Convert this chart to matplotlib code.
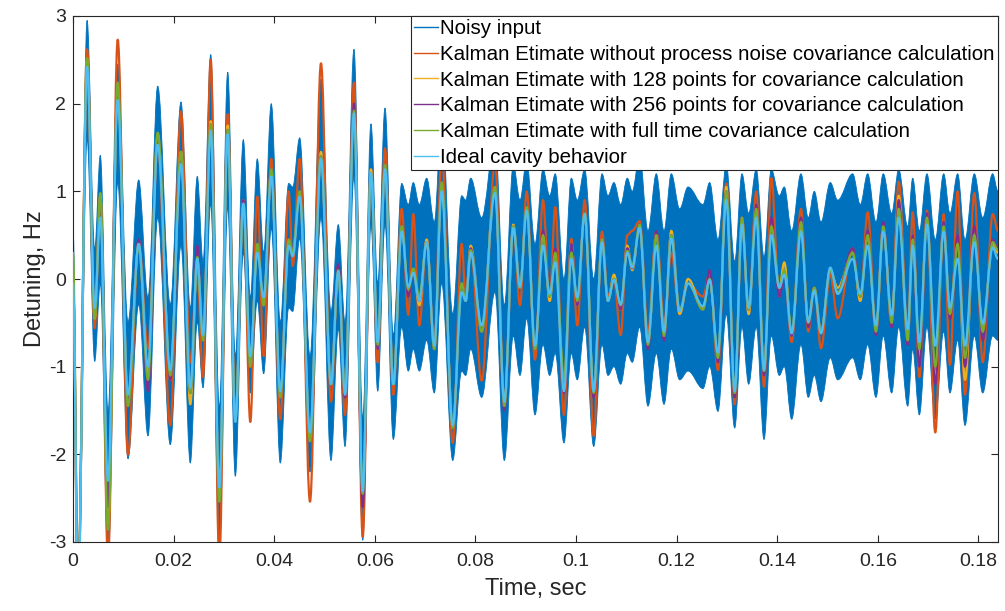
import matplotlib
matplotlib.use("Agg")
import matplotlib.pyplot as plt
from matplotlib.path import Path
from matplotlib.patches import PathPatch
from matplotlib.lines import Line2D

plt.rcParams['font.family'] = ['Liberation Sans', 'DejaVu Sans']
plt.rcParams['axes.unicode_minus'] = False

# ---- data (times of local extrema, s) ----
t = [0.0, 0.0010, 0.0028, 0.00431, 0.00543, 0.00696, 0.00889, 0.01093, 0.01306, 0.01491,
     0.01684, 0.01934, 0.02147, 0.02332, 0.02471, 0.02585, 0.02738, 0.02909, 0.03076, 0.03227,
     0.03386, 0.03525, 0.03664, 0.03791, 0.03942, 0.04121, 0.04288, 0.04368, 0.04507, 0.04712,
     0.04930, 0.05129, 0.05274, 0.05408, 0.05586, 0.05760, 0.05924, 0.06058, 0.06203, 0.06368,
     0.06535, 0.06666, 0.06765, 0.06885, 0.07032, 0.07183, 0.07330, 0.07549, 0.07728, 0.07807,
     0.07907, 0.08125, 0.08390, 0.08575, 0.08754, 0.08887, 0.09020, 0.09185, 0.09344, 0.09477,
     0.09588, 0.09761, 0.09907, 0.10026, 0.10173, 0.10352, 0.10517, 0.10636, 0.10755, 0.10889,
     0.11020, 0.11119, 0.11266, 0.11431, 0.11597, 0.11750, 0.11895, 0.12062, 0.12227, 0.12525,
     0.12658, 0.12823, 0.12988, 0.13155, 0.13300, 0.13433, 0.13584, 0.13738, 0.13883, 0.14042,
     0.14141, 0.14288, 0.14473, 0.14618, 0.14738, 0.14871, 0.15056, 0.15203, 0.15501, 0.15652,
     0.15799, 0.15964, 0.16109, 0.16276, 0.16416, 0.16595, 0.16694, 0.16826, 0.16978, 0.17143,
     0.17310, 0.17435, 0.17588, 0.17734, 0.17919, 0.18086, 0.18284, 0.18390]

ideal = [-0.05, -3.6, 2.42, -0.33, 0.70, -2.30, 2.04, -1.32, 0.40, -1.00,
         1.53, -1.04, 1.31, -1.24, 0.23, -0.64, 1.69, -2.38, 1.65, -1.63,
         0.86, -0.88, 0.30, -0.21, 1.17, -1.28, 0.38, 0.26, 0.94, -1.75,
         1.37, -1.20, 0.09, -1.32, 1.89, -2.42, 1.21, -0.72, 1.25, -1.20,
         0.54, -0.09, 0.07, -0.25, 0.42, -0.76, 1.00, -1.67, -0.15, -0.25,
         0.30, -0.53, 0.98, -1.40, 0.58, -0.09, 0.78, -0.76, 0.38, -0.17,
         0.19, -1.28, 0.23, -0.21, 0.74, -1.28, 0.42, -0.25, -0.01, -0.29,
         0.30, 0.13, 0.58, -0.72, 0.38, -0.60, 0.46, -0.37, -0.05, -0.31,
         -0.01, -0.84, 0.90, -1.28, 0.62, -0.33, 0.70, -1.04, 0.50, -0.10,
         0.05, -0.62, 0.54, -0.49, -0.13, -0.62, 0.13, -0.17, 0.23, -0.17,
         0.38, -0.53, 0.54, -0.41, 0.70, -0.57, 0.38, -0.72, 0.62, -0.76,
         0.54, -0.33, 0.23, -0.76, 0.42, -0.51, 0.36, 0.23]

kalman_noq = [0.0, -3.6, 2.62, -0.56, 0.95, -3.20, 2.73, -2.00, 0.44, -0.80,
              1.55, -1.67, 1.91, -0.95, 0.10, -1.12, 2.50, -3.20, 1.88, -1.60,
              0.85, -1.63, 0.94, -0.88, 1.37, -1.60, 1.00, 0.15, 1.37, -2.54,
              2.46, -1.40, 0.15, -1.55, 2.24, -2.94, 1.25, -0.95, 1.49, -1.32,
              0.80, -0.41, 0.74, -0.53, 0.45, -0.75, 1.45, -1.87, 0.40, -0.20,
              0.35, -1.16, 1.33, -1.40, 0.60, -0.30, 1.00, -0.92, 0.90, -0.25,
              0.82, -1.55, 0.46, -0.53, 0.90, -1.79, 0.54, -0.20, 0.00, -0.64,
              0.50, 0.55, 0.66, -0.60, 0.54, -0.50, 0.30, -0.40, -0.05, -0.20,
              0.07, -1.04, 1.09, -1.43, 0.70, -0.40, 1.00, -1.23, 1.15, -0.20,
              0.10, -0.72, 0.80, -0.60, -0.10, -0.79, 0.05, -0.45, 0.35, -0.25,
              0.76, -0.60, 0.62, -0.50, 1.11, -0.62, 0.76, -1.12, 0.78, -1.75,
              0.74, -0.98, 1.00, -1.32, 0.98, -0.95, 0.74, 0.55]

kalman_128 = [0.0, -3.5, 2.50, -0.45, 0.95, -2.80, 2.20, -1.40, 0.40, -1.10,
              1.65, -1.15, 1.45, -1.43, 0.25, -0.70, 1.80, -2.50, 1.75, -1.60,
              0.90, -1.00, 0.40, -0.30, 1.25, -1.35, 0.45, 0.30, 1.00, -1.85,
              1.45, -1.20, 0.10, -1.30, 1.95, -2.50, 1.25, -0.80, 1.30, -1.20,
              0.60, -0.15, 0.10, -0.30, 0.45, -0.80, 1.10, -1.70, -0.05, -0.25,
              0.38, -0.60, 1.05, -1.45, 0.62, -0.10, 0.82, -0.80, 0.50, -0.25,
              0.30, -1.20, 0.40, -0.30, 0.75, -1.30, 0.45, -0.25, 0.05, -0.35,
              0.38, 0.10, 0.60, -0.75, 0.52, -0.65, 0.55, -0.40, 0.00, -0.33,
              0.00, -0.90, 1.05, -1.30, 0.65, -0.40, 0.85, -1.05, 0.65, -0.10,
              0.19, -0.65, 0.60, -0.50, -0.10, -0.60, 0.10, -0.10, 0.30, -0.25,
              0.50, -0.60, 0.60, -0.50, 0.95, -0.70, 0.50, -0.90, 0.70, -1.15,
              0.60, -0.40, 0.45, -1.15, 0.55, -0.60, 0.40, 0.30]

kalman_256 = [0.0, -3.5, 2.45, -0.40, 0.90, -2.60, 2.20, -1.40, 0.45, -1.28,
              1.60, -1.15, 1.40, -1.30, 0.38, -0.70, 1.75, -2.50, 1.70, -1.60,
              0.90, -1.00, 0.40, -0.30, 1.25, -1.35, 0.45, 0.30, 1.00, -1.85,
              1.40, -1.20, 0.17, -1.35, 2.00, -2.60, 1.20, -0.80, 1.30, -1.20,
              0.60, -0.20, 0.10, -0.25, 0.42, -0.80, 1.10, -1.70, -0.05, -0.25,
              0.35, -0.60, 1.05, -1.50, 0.60, -0.10, 0.82, -0.80, 0.55, -0.20,
              0.35, -1.30, 0.40, -0.30, 0.75, -1.35, 0.45, -0.25, 0.00, -0.35,
              0.35, 0.12, 0.62, -0.80, 0.55, -0.70, 0.50, -0.35, -0.05, -0.35,
              0.10, -0.95, 1.00, -1.35, 0.70, -0.35, 0.85, -1.10, 0.70, -0.20,
              0.05, -0.65, 0.70, -0.55, -0.10, -0.60, 0.10, -0.15, 0.35, -0.20,
              0.55, -0.64, 0.65, -0.55, 0.90, -0.75, 0.50, -1.00, 0.75, -1.20,
              0.65, -0.45, 0.50, -1.00, 0.60, -0.70, 0.45, 0.35]

kalman_full = [0.3, -3.5, 2.52, -0.45, 0.98, -2.86, 2.24, -1.45, 0.40, -1.15,
               1.67, -1.10, 1.45, -1.30, 0.25, -0.70, 1.77, -2.54, 1.70, -1.60,
               0.85, -1.00, 0.40, -0.30, 1.25, -1.35, 0.45, 0.30, 1.00, -1.85,
               1.40, -1.20, 0.10, -1.30, 1.92, -2.45, 1.20, -0.75, 1.30, -1.20,
               0.60, -0.12, 0.12, -0.20, 0.42, -0.80, 1.10, -1.70, -0.05, -0.25,
               0.33, -0.60, 1.05, -1.45, 0.60, -0.10, 0.82, -0.80, 0.50, -0.20,
               0.30, -1.15, 0.30, -0.25, 0.75, -1.30, 0.45, -0.25, 0.00, -0.30,
               0.32, 0.15, 0.62, -0.75, 0.50, -0.65, 0.50, -0.35, -0.05, -0.35,
               0.00, -0.90, 1.00, -1.30, 0.70, -0.35, 0.80, -1.05, 0.60, -0.10,
               0.10, -0.60, 0.65, -0.50, -0.10, -0.60, 0.10, -0.15, 0.30, -0.20,
               0.50, -0.60, 0.60, -0.50, 0.80, -0.70, 0.45, -0.80, 0.70, -1.00,
               0.60, -0.40, 0.40, -0.90, 0.50, -0.60, 0.42, 0.33]

noisy_hi = [0.62, -3.2, 2.95, 0.34, 1.41, -1.51, 2.45, -0.49, 1.13, -0.21,
            2.20, -0.29, 2.02, -0.33, 1.17, 0.20, 2.56, -1.47, 2.36, -0.88,
            1.59, -0.21, 1.37, 0.30, 2.00, -0.49, 1.09, 1.05, 1.61, -0.88,
            2.28, -0.37, 0.62, -0.49, 2.62, -1.59, 1.77, -0.05, 1.95, -0.64,
            1.09, 0.85, 1.10, 0.85, 1.15, 0.65, 1.85, -0.40, 0.95, 0.90,
            1.15, 0.70, 1.60, -0.30, 1.30, 0.90, 1.35, 0.40, 1.25, 0.95,
            1.20, 0.00, 1.15, 0.90, 1.25, 0.00, 1.20, 0.95, 1.10, 0.85,
            1.15, 1.00, 1.41, 0.55, 1.20, 0.55, 1.20, 0.80, 1.05, 0.85,
            1.10, 0.45, 1.30, 0.20, 1.20, 0.75, 1.25, 0.25, 1.25, 0.95,
            1.05, 0.55, 1.20, 0.70, 1.00, 0.65, 1.10, 0.90, 1.20, 0.85,
            1.20, 0.65, 1.20, 0.75, 1.25, 0.60, 1.15, 0.55, 1.20, 0.45,
            1.20, 0.75, 1.20, 0.45, 1.20, 0.70, 1.20, 1.00]

noisy_lo = [0.0, -3.8, 1.60, -0.94, -0.05, -3.20, 1.10, -2.05, -0.29, -1.79,
            0.70, -1.89, 0.38, -2.10, -0.49, -1.24, 0.86, -3.10, 0.82, -2.25,
            0.30, -1.30, -0.25, -1.08, 0.58, -2.10, -0.33, -0.37, 0.46, -2.20,
            0.70, -2.07, -0.57, -1.91, 1.17, -2.98, 0.62, -1.28, 0.62, -1.83,
            -0.55, -1.05, -0.80, -1.05, -0.70, -1.30, -0.05, -2.07, -1.05, -1.10,
            -0.80, -1.35, -0.15, -2.07, -0.65, -1.10, -0.45, -1.55, -0.75, -1.10,
            -0.85, -1.87, -0.85, -1.15, -0.55, -1.91, -0.75, -1.10, -1.00, -1.20,
            -0.85, -0.95, -0.55, -1.45, -0.85, -1.43, -0.80, -1.15, -1.05, -1.25,
            -1.00, -1.51, -0.40, -1.70, -0.55, -1.20, -0.55, -1.83, -0.65, -1.10,
            -1.00, -1.60, -0.75, -1.35, -1.10, -1.40, -0.90, -1.15, -0.90, -1.15,
            -0.75, -1.35, -0.65, -1.30, -0.55, -1.45, -0.80, -1.55, -0.55, -1.60,
            -0.60, -1.30, -0.70, -1.67, -0.65, -1.30, -0.65, -0.70]

series_labels = ['Noisy input',
                 'Kalman Etimate without process noise covariance calculation',
                 'Kalman Etimate with 128 points for covariance calculation',
                 'Kalman Etimate with 256 points for covariance calculation',
                 'Kalman Etimate with full time covariance calculation',
                 'Ideal cavity behavior']
colors = ['#0072BD', '#D95319', '#EDB120', '#7E2F8E', '#77AC30', '#4DBEEE']

xticks = [0, 0.02, 0.04, 0.06, 0.08, 0.1, 0.12, 0.14, 0.16, 0.18]
xtick_labels = ['0', '0.02', '0.04', '0.06', '0.08', '0.1', '0.12', '0.14', '0.16', '0.18']
yticks = [-3, -2, -1, 0, 1, 2, 3]
ytick_labels = ['-3', '-2', '-1', '0', '1', '2', '3']


def curve_segments(x, y, f=0.36):
    verts = [(x[0], y[0])]
    codes = [Path.MOVETO]
    for i in range(len(x) - 1):
        d = x[i + 1] - x[i]
        verts += [(x[i] + f * d, y[i]), (x[i + 1] - f * d, y[i + 1]), (x[i + 1], y[i + 1])]
        codes += [Path.CURVE4] * 3
    return verts, codes


def smooth_path(x, y):
    v, c = curve_segments(x, y)
    return Path(v, c)


def band_path(x, lo, hi):
    v1, c1 = curve_segments(x, hi)
    v2, c2 = curve_segments(x[::-1], lo[::-1])
    c2[0] = Path.LINETO
    verts = v1 + v2 + [v1[0]]
    codes = c1 + c2 + [Path.CLOSEPOLY]
    return Path(verts, codes)


fig = plt.figure(figsize=(10.05, 6.11), dpi=100)
ax = fig.add_axes([73 / 1005, 1 - 542 / 611, 925 / 1005, 526 / 611])

ax.add_patch(PathPatch(band_path(t, noisy_lo, noisy_hi), facecolor=colors[0],
                       edgecolor=colors[0], lw=0.6, zorder=2))

for vals, col, z in [(kalman_noq, colors[1], 3), (kalman_128, colors[2], 4),
                     (kalman_256, colors[3], 5), (kalman_full, colors[4], 6),
                     (ideal, colors[5], 7)]:
    ax.add_patch(PathPatch(smooth_path(t, vals), facecolor='none', edgecolor=col,
                           lw=1.6, zorder=z, capstyle='round', joinstyle='round'))

ax.set_xlim(0, 0.1839)
ax.set_ylim(-3, 3)
ax.set_xticks(xticks)
ax.set_xticklabels(xtick_labels)
ax.set_yticks(yticks)
ax.set_yticklabels(ytick_labels)
ax.tick_params(direction='in', top=True, right=True, length=5, width=0.8,
               labelsize=14, colors='#262626', pad=5)
ax.tick_params(axis='x', pad=8)
for s in ax.spines.values():
    s.set_color('#262626')
    s.set_linewidth(0.8)
ax.set_xlabel('Time, sec', fontsize=17, color='#262626', labelpad=6)
ax.set_ylabel('Detuning, Hz', fontsize=17, color='#262626', labelpad=2)

handles = [Line2D([], [], color=c, lw=1.0) for c in colors]
leg = ax.legend(handles, series_labels, loc='upper right', bbox_to_anchor=(1, 1),
                borderaxespad=0, fontsize=14.8, handlelength=1.2, handletextpad=0.1,
                labelspacing=0.33, borderpad=0.15, fancybox=False, framealpha=1,
                edgecolor='#262626')
leg.get_frame().set_linewidth(0.8)
leg.set_zorder(10)

fig.savefig('out.png', dpi=100)
